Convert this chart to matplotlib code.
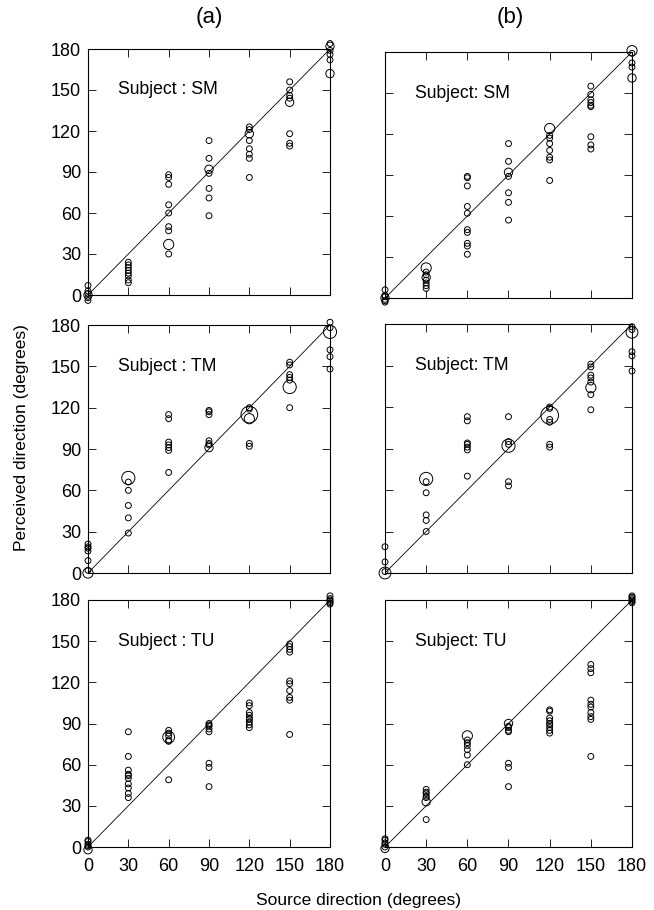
import matplotlib
matplotlib.use('Agg')
import matplotlib.pyplot as plt

plt.rcParams['font.family'] = ['Liberation Sans', 'DejaVu Sans']

# perceived directions, keyed by source direction
# single responses (small circles)
SM_A = {0: [7, 3, 1, -2, -4], 30: [24, 22, 20, 18, 16, 14, 11, 9],
        60: [88, 86, 81, 66, 60, 50, 47, 30], 90: [113, 100, 89, 78, 71, 58],
        120: [123, 121, 113, 107, 103, 100, 86], 150: [156, 150, 146, 144, 118, 111, 109],
        180: [184, 179, 176, 172]}
SM_B = {0: [6, 2, 1, -2, -3], 30: [19, 17, 13, 11, 9, 7],
        60: [89, 88, 82, 67, 62, 50, 48, 40, 38, 32], 90: [113, 100, 89, 77, 70, 57],
        120: [119, 117, 113, 108, 103, 101, 86], 150: [155, 149, 145, 143, 141, 140, 118, 112, 109],
        180: [179, 172, 169]}
TM_A = {0: [21, 19, 18, 16, 9, 2], 30: [66, 60, 49, 40, 29],
        60: [115, 112, 95, 93, 91, 89, 73], 90: [118, 117, 115, 96, 94, 93],
        120: [120, 119, 94, 92], 150: [153, 151, 144, 142, 140, 120],
        180: [182, 178, 162, 157, 148]}
TM_B = {0: [19, 8, 1], 30: [66, 58, 42, 38, 30],
        60: [113, 110, 94, 93, 91, 89, 70], 90: [113, 95, 93, 66, 63],
        120: [120, 119, 111, 109, 93, 91], 150: [151, 149, 143, 141, 138, 129, 118],
        180: [178, 176, 160, 157, 146]}
TU_A = {0: [5, 4, 2, 1, 0], 30: [84, 66, 56, 53, 52, 50, 46, 43, 39, 36],
        60: [85, 83, 81, 78, 77, 49], 90: [90, 89, 88, 86, 84, 61, 58, 44],
        120: [105, 103, 98, 96, 94, 93, 91, 89, 87],
        150: [148, 146, 144, 142, 121, 119, 114, 109, 107, 82],
        180: [183, 181, 180, 179, 178, 177]}
TU_B = {0: [6, 5, 3, 2, 0], 30: [42, 40, 39, 37, 36, 20],
        60: [78, 76, 74, 71, 67, 60], 90: [88, 87, 85, 84, 61, 58, 44],
        120: [100, 99, 94, 92, 90, 89, 87, 85, 83],
        150: [133, 130, 127, 107, 104, 102, 98, 95, 93, 66],
        180: [183, 182, 181, 180, 179, 178]}

# repeated responses (bigger circles): (source, perceived, count)
SM_A_BIG = [(0, 0, 2), (60, 37, 3), (90, 92, 2), (120, 118, 2), (150, 141, 2),
            (180, 162, 2), (180, 182, 2)]
SM_B_BIG = [(0, 0, 2), (30, 22, 3), (30, 15, 2), (90, 92, 2), (120, 124, 3),
            (180, 181, 3), (180, 161, 2)]
TM_A_BIG = [(0, 0, 3), (30, 69, 5), (90, 91, 2), (120, 115, 8), (120, 112, 3),
            (150, 135, 5), (180, 175, 5)]
TM_B_BIG = [(0, 0, 4), (30, 68, 5), (90, 92, 5), (120, 114, 9), (150, 134, 3),
            (180, 174, 4)]
TU_A_BIG = [(0, -2, 2), (60, 80, 4)]
TU_B_BIG = [(0, -1, 2), (30, 33, 2), (60, 81, 3), (90, 90, 2)]

subjects = ['SM', 'TM', 'TU']
panels = [[(SM_A, SM_A_BIG), (SM_B, SM_B_BIG)],
          [(TM_A, TM_A_BIG), (TM_B, TM_B_BIG)],
          [(TU_A, TU_A_BIG), (TU_B, TU_B_BIG)]]
ticks = [0, 30, 60, 90, 120, 150, 180]

W, H = 654, 910
fig = plt.figure(figsize=(W / 100, H / 100), dpi=100)

# axes boxes in pixels: left, right, top, bottom
boxes = [[(88, 330, 49, 295), (385, 632, 52, 298)],
         [(88, 330, 325, 573), (385, 632, 324, 573)],
         [(88, 330, 600, 847), (385, 632, 600, 847)]]

base = 18
for r in range(3):
    for c in range(2):
        l, rt, t, b = boxes[r][c]
        ax = fig.add_axes([l / W, 1 - b / H, (rt - l) / W, (b - t) / H])
        small, big = panels[r][c]

        ax.plot([0, 180], [0, 180], color='black', lw=0.6)

        xs, ys = [], []
        for src, vals in small.items():
            xs += [src] * len(vals)
            ys += vals
        ax.scatter(xs, ys, s=base, facecolors='none', edgecolors='black',
                   linewidths=0.7, clip_on=False, zorder=3)
        ax.scatter([p[0] for p in big], [p[1] for p in big],
                   s=[base * p[2] for p in big], facecolors='none',
                   edgecolors='black', linewidths=0.7, clip_on=False, zorder=3)

        ax.set_xlim(0, 180)
        ax.set_ylim(0, 180)
        ax.set_xticks(ticks)
        ax.set_yticks(ticks)
        ax.tick_params(direction='in', length=6, width=0.6, top=True, right=True,
                       labelsize=13)
        ax.tick_params(axis='y', pad=5)
        ax.tick_params(axis='x', pad=8)
        if c == 1:
            ax.set_yticklabels([])
        if r < 2:
            ax.set_xticklabels([])
        for sp in ax.spines.values():
            sp.set_linewidth(0.8)

        sep = ' : ' if c == 0 else ': '
        ax.text(22, 150, 'Subject' + sep + subjects[r], fontsize=12.7,
                ha='left', va='center')

fig.text(209 / W, 1 - 18 / H, '(a)', fontsize=16, ha='center', va='center')
fig.text(510 / W, 1 - 17 / H, '(b)', fontsize=16, ha='center', va='center')
fig.text(358 / W, 1 - 901 / H, 'Source direction (degrees)', fontsize=12.5,
         ha='center', va='center')
fig.text(22 / W, 1 - 438 / H, 'Perceived direction (degrees)', fontsize=12.5,
         ha='center', va='center', rotation=90)

fig.savefig('out.png', dpi=100)
